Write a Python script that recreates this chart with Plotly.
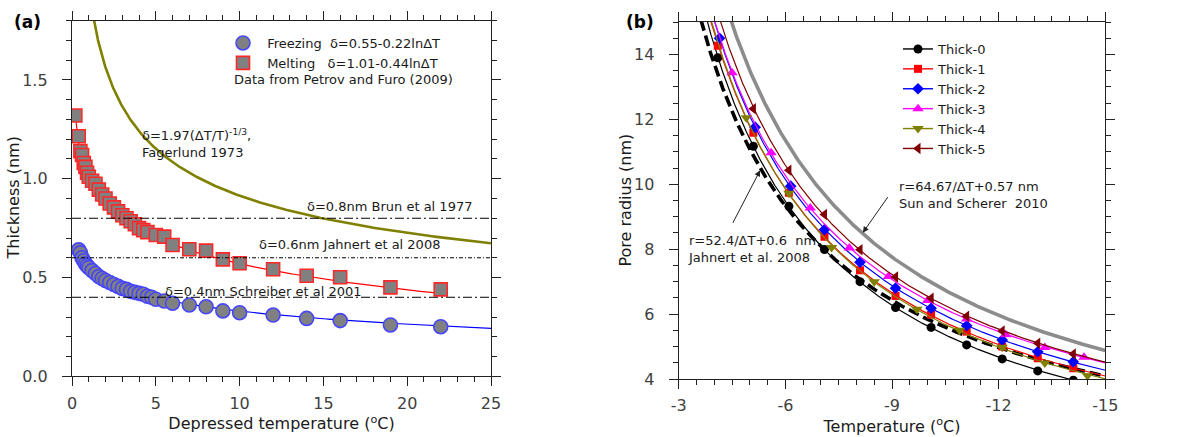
import numpy as np
import plotly.graph_objects as go

# ---------------- panel (a): non-freezing layer thickness ----------------
# Petrov and Furo (2009)
freeze_dT = [0.4, 0.5, 0.6, 0.7, 0.8, 0.9, 1.0, 1.2, 1.4, 1.6, 1.8, 2.0, 2.25, 2.5,
             2.75, 3.0, 3.25, 3.5, 3.75, 4.0, 4.25, 4.5, 4.75, 5.0, 5.5, 6, 7, 8, 9,
             10, 12, 14, 16, 19, 22]
freeze_delta = [0.64, 0.625, 0.60, 0.585, 0.57, 0.56, 0.55, 0.535, 0.52, 0.505, 0.495,
                0.485, 0.475, 0.465, 0.455, 0.445, 0.44, 0.43, 0.425, 0.42, 0.415, 0.405,
                0.40, 0.39, 0.381, 0.37, 0.361, 0.352, 0.331, 0.322, 0.31, 0.293, 0.282,
                0.26, 0.251]
melt_dT = [0.2, 0.4, 0.5, 0.6, 0.7, 0.8, 0.9, 1.0, 1.2, 1.4, 1.6, 1.8, 2.0, 2.25, 2.5,
           2.75, 3.0, 3.25, 3.5, 3.75, 4.0, 4.25, 4.5, 5.0, 5.5, 6, 7, 8, 9, 10, 12, 14,
           16, 19, 22]
melt_delta = [1.32, 1.215, 1.14, 1.12, 1.08, 1.06, 1.03, 1.01, 0.99, 0.975, 0.945, 0.92,
              0.90, 0.875, 0.855, 0.835, 0.815, 0.80, 0.785, 0.77, 0.75, 0.74, 0.73, 0.715,
              0.707, 0.665, 0.643, 0.636, 0.592, 0.572, 0.542, 0.509, 0.501, 0.45, 0.44]

freeze_fit = (0.55, 0.22)      # delta = c0 - c1*log(dT)
melt_fit = (1.01, 0.44)
fagerlund_c = 1.97             # delta = c * dT^(-1/3)

ref_delta = [0.8, 0.6, 0.4]
ref_labels = ["δ=0.8nm Brun et al 1977", "δ=0.6nm Jahnert et al 2008",
              "δ=0.4nm Schreiber et al 2001"]

# ---------------- panel (b): pore radius vs temperature ----------------
thick_names = ["Thick-0", "Thick-1", "Thick-2", "Thick-3", "Thick-4", "Thick-5"]
thick_T = [
    [-4.1, -5.1, -6.1, -7.1, -8.1, -9.1, -10.1, -11.1, -12.1, -13.1, -14.1],
    [-4.1, -5.1, -6.1, -7.1, -8.1, -9.1, -10.1, -11.1, -12.1, -13.1, -14.1],
    [-4.15, -5.15, -6.15, -7.1, -8.1, -9.1, -10.1, -11.1, -12.1, -13.1, -14.1],
    [-4.5, -5.6, -6.7, -7.8, -8.9, -10.0, -11.1, -12.2, -13.3, -14.4],
    [-4.9, -6.1, -7.3, -8.5, -9.7, -10.9, -12.1, -13.3, -14.5],
    [-5.1, -6.1, -7.1, -8.1, -9.1, -10.1, -11.1, -12.1, -13.1, -14.1],
]
thick_r = [
    [13.9, 11.17, 9.32, 7.99, 7.0, 6.2, 5.59, 5.05, 4.62, 4.25, 3.96],
    [14.27, 11.59, 9.74, 8.38, 7.35, 6.56, 5.98, 5.46, 5.0, 4.64, 4.33],
    [14.5, 11.76, 9.94, 8.6, 7.6, 6.8, 6.18, 5.64, 5.2, 4.84, 4.53],
    [13.44, 10.97, 9.27, 8.04, 7.16, 6.42, 5.85, 5.36, 4.97, 4.67],
    [12.05, 9.72, 8.05, 7.0, 6.15, 5.5, 4.98, 4.49, 4.1],
    [12.33, 10.43, 9.07, 7.98, 7.14, 6.49, 5.93, 5.48, 5.1, 4.77],
]
jahnert = (52.4, 0.6)          # r = a/dT + b
sun_scherer = (64.67, 0.57)

left_xticks = [0, 5, 10, 15, 20, 25]
left_yticks = [0.0, 0.5, 1.0, 1.5]
left_yticktext = ["0.0", "0.5", "1.0", "1.5"]
right_xticks = [-3, -6, -9, -12, -15]
right_xticktext = ["-3", "-6", "-9", "-12", "-15"]
right_yticks = [4, 6, 8, 10, 12, 14]

# ---------------- styling ----------------
W, H = 1193, 437
FONT = "DejaVu Sans"
thick_style = [
    dict(color="black", symbol="circle", size=9),
    dict(color="red", symbol="square", size=8),
    dict(color="blue", symbol="diamond", size=9),
    dict(color="magenta", symbol="triangle-up", size=10),
    dict(color="#808000", symbol="triangle-down", size=10),
    dict(color="#800000", symbol="triangle-left", size=10),
]


def px_x(p):
    return p / W


def px_y(p):
    return 1 - p / H


fig = go.Figure()

# --- panel (a) curves
dT_a = np.linspace(0.05, 25, 600)
fig.add_trace(go.Scatter(x=dT_a, y=fagerlund_c * dT_a ** (-1 / 3), mode="lines",
                         line=dict(color="#808000", width=2.6), showlegend=False,
                         hoverinfo="skip", xaxis="x", yaxis="y"))
dT_f = np.linspace(min(freeze_dT), 25, 400)
fig.add_trace(go.Scatter(x=dT_f, y=freeze_fit[0] - freeze_fit[1] * np.log10(dT_f),
                         mode="lines", line=dict(color="blue", width=1.2),
                         showlegend=False, xaxis="x", yaxis="y"))
dT_m = np.linspace(min(melt_dT), max(melt_dT), 400)
fig.add_trace(go.Scatter(x=dT_m, y=melt_fit[0] - melt_fit[1] * np.log10(dT_m),
                         mode="lines", line=dict(color="red", width=1.2),
                         showlegend=False, xaxis="x", yaxis="y"))

fig.add_trace(go.Scatter(
    x=freeze_dT, y=freeze_delta, mode="markers",
    name="\u00a0Freezing\u00a0\u00a0δ=0.55-0.22lnΔT",
    marker=dict(symbol="circle", size=14, color="#808080",
                line=dict(color="rgb(70,70,255)", width=1.6)),
    legend="legend2", xaxis="x", yaxis="y"))
fig.add_trace(go.Scatter(
    x=melt_dT, y=melt_delta, mode="markers",
    name="\u00a0Melting\u00a0\u00a0\u00a0δ=1.01-0.44lnΔT",
    marker=dict(symbol="square", size=13, color="#808080",
                line=dict(color="rgb(255,40,40)", width=1.6)),
    legend="legend2", xaxis="x", yaxis="y"))

# --- panel (b) curves
T_grid = np.linspace(-3.2, -15, 500)
dT_grid = -T_grid
fig.add_trace(go.Scatter(x=T_grid, y=sun_scherer[0] / dT_grid + sun_scherer[1],
                         mode="lines", line=dict(color="#8c8c8c", width=3.6),
                         showlegend=False, xaxis="x2", yaxis="y2"))
fig.add_trace(go.Scatter(x=T_grid, y=jahnert[0] / dT_grid + jahnert[1],
                         mode="lines", line=dict(color="black", width=3.6, dash="11px,5px"),
                         showlegend=False, xaxis="x2", yaxis="y2"))

for name, T, r, st in zip(thick_names, thick_T, thick_r, thick_style):
    dT = -np.asarray(T, dtype=float)
    A = np.column_stack([1 / dT, np.ones_like(dT)])
    (a, b), *_ = np.linalg.lstsq(A, np.asarray(r, dtype=float), rcond=None)
    fig.add_trace(go.Scatter(x=T_grid, y=a / dT_grid + b, mode="lines",
                             line=dict(color=st["color"], width=1.2),
                             showlegend=False, xaxis="x2", yaxis="y2"))
    fig.add_trace(go.Scatter(x=T, y=r, mode="markers",
                             marker=dict(symbol=st["symbol"], size=st["size"], color=st["color"]),
                             showlegend=False, xaxis="x2", yaxis="y2"))
    # legend entry with line + symbol
    fig.add_trace(go.Scatter(x=[None], y=[None], mode="lines+markers", name=name,
                             line=dict(color=st["color"], width=1.4),
                             marker=dict(symbol=st["symbol"], size=st["size"], color=st["color"]),
                             legend="legend", xaxis="x2", yaxis="y2"))

# reference thickness lines
ref_dash = ["9px,3px,2px,3px", "4px,2px,1px,2px", "9px,3px,2px,3px"]
for d, dash in zip(ref_delta, ref_dash):
    fig.add_shape(type="line", xref="x domain", yref="y", x0=0, x1=1, y0=d, y1=d,
                  line=dict(color="black", width=1, dash=dash))

ann_font = dict(family=FONT, size=13, color="#1a1a1a")
title_font = dict(family=FONT, size=16, color="#1a1a1a")
annotations = [
    dict(x=px_x(27), y=px_y(22), xref="paper", yref="paper", text="<b>(a)</b>",
         xanchor="center", yanchor="middle",
         showarrow=False, font=dict(family=FONT, size=17, color="black")),
    dict(x=px_x(640), y=px_y(22), xref="paper", yref="paper", text="<b>(b)</b>",
         xanchor="center", yanchor="middle",
         showarrow=False, font=dict(family=FONT, size=17, color="black")),
    # y-axis titles
    dict(x=px_x(13), y=px_y(198.5), xref="paper", yref="paper", text="Thickness (nm)",
         textangle=-90, xanchor="center", yanchor="middle", showarrow=False, font=title_font),
    dict(x=px_x(625), y=px_y(200.5), xref="paper", yref="paper", text="Pore radius (nm)",
         textangle=-90, xanchor="center", yanchor="middle", showarrow=False, font=title_font),
    dict(x=9.55, y=1.50, xref="x", yref="y", xanchor="left",
         text="Data from Petrov and Furo (2009)", showarrow=False, font=ann_font),
    dict(x=4.06, y=1.176, xref="x", yref="y", xanchor="left", align="left",
         text="δ=1.97(ΔT/T)<sup>-1/3</sup>,<br>Fagerlund 1973", showarrow=False, font=ann_font),
    dict(x=23.99, y=0.857, xref="x", yref="y", xanchor="right",
         text=ref_labels[0], showarrow=False, font=ann_font),
    dict(x=11.02, y=0.668, xref="x", yref="y", xanchor="left",
         text=ref_labels[1], showarrow=False, font=ann_font),
    dict(x=5.45, y=0.428, xref="x", yref="y", xanchor="left",
         text=ref_labels[2], showarrow=False, font=ann_font),
    dict(x=-9.14, y=9.67, xref="x2", yref="y2", xanchor="left", align="left",
         text="r=64.67/ΔT+0.57 nm<br>Sun and Scherer  2010", showarrow=False, font=ann_font),
    dict(x=-3.2, y=8.02, xref="x2", yref="y2", xanchor="left", align="left",
         text="r=52.4/ΔT+0.6  nm<br>Jahnert et al. 2008", showarrow=False, font=ann_font),
    dict(x=-8.18, y=8.51, xref="x2", yref="y2", text="", showarrow=True,
         ax=26, ay=-37, arrowhead=2, arrowsize=1.2, arrowwidth=1, arrowcolor="#222"),
    dict(x=-5.29, y=10.43, xref="x2", yref="y2", text="", showarrow=True,
         ax=-28, ay=54, arrowhead=2, arrowsize=1.2, arrowwidth=1, arrowcolor="#222"),
]

tick_font = dict(family=FONT, size=16, color="#404040")


def axis(domain, rng, tickvals, ticktext, minor_dtick, title, anchor, standoff, lblgap):
    ax = dict(domain=domain, range=rng, tickmode="array", tickvals=tickvals,
              ticktext=ticktext, ticks="outside", ticklen=9, tickwidth=1.3,
              tickcolor="#222", showline=True, linecolor="#222", linewidth=1.3,
              mirror="ticks", showgrid=False, zeroline=False, anchor=anchor,
              tickfont=tick_font, ticklabelstandoff=lblgap, automargin=False,
              minor=dict(dtick=minor_dtick, ticks="outside", ticklen=5,
                         tickwidth=1.1, tickcolor="#222", showgrid=False))
    if title:
        ax["title"] = dict(text=title, font=title_font, standoff=standoff)
    return ax


fig.update_layout(
    width=W, height=H,
    margin=dict(l=0, r=0, t=0, b=0),
    paper_bgcolor="white", plot_bgcolor="white",
    font=dict(family=FONT),
    xaxis=axis([px_x(72), px_x(491)], [0, 25], left_xticks, [str(v) for v in left_xticks],
               1, "Depressed temperature (<sup>o</sup>C)", "y", 5, 3),
    yaxis=axis([px_y(376.3), px_y(20.7)], [0, 1.8], left_yticks, left_yticktext,
               0.1, None, "x", 0, 11),
    xaxis2=axis([px_x(678.7), px_x(1105.3)], [-3, -15], right_xticks, right_xticktext,
                0.5, "Temperature (<sup>o</sup>C)", "y2", 5, 3),
    yaxis2=axis([px_y(379), px_y(22)], [4, 15], right_yticks, [str(v) for v in right_yticks],
                0.5, None, "x2", 0, 11),
    legend=dict(x=px_x(898), y=px_y(34), xanchor="left", yanchor="top",
                bgcolor="rgba(0,0,0,0)", font=dict(family=FONT, size=13, color="#1a1a1a"),
                itemwidth=30),
    legend2=dict(x=px_x(223), y=px_y(28), xanchor="left", yanchor="top",
                 bgcolor="rgba(0,0,0,0)", font=dict(family=FONT, size=13, color="#1a1a1a"),
                 itemwidth=30),
    annotations=annotations,
    showlegend=True,
)

fig.write_html("out.html")
